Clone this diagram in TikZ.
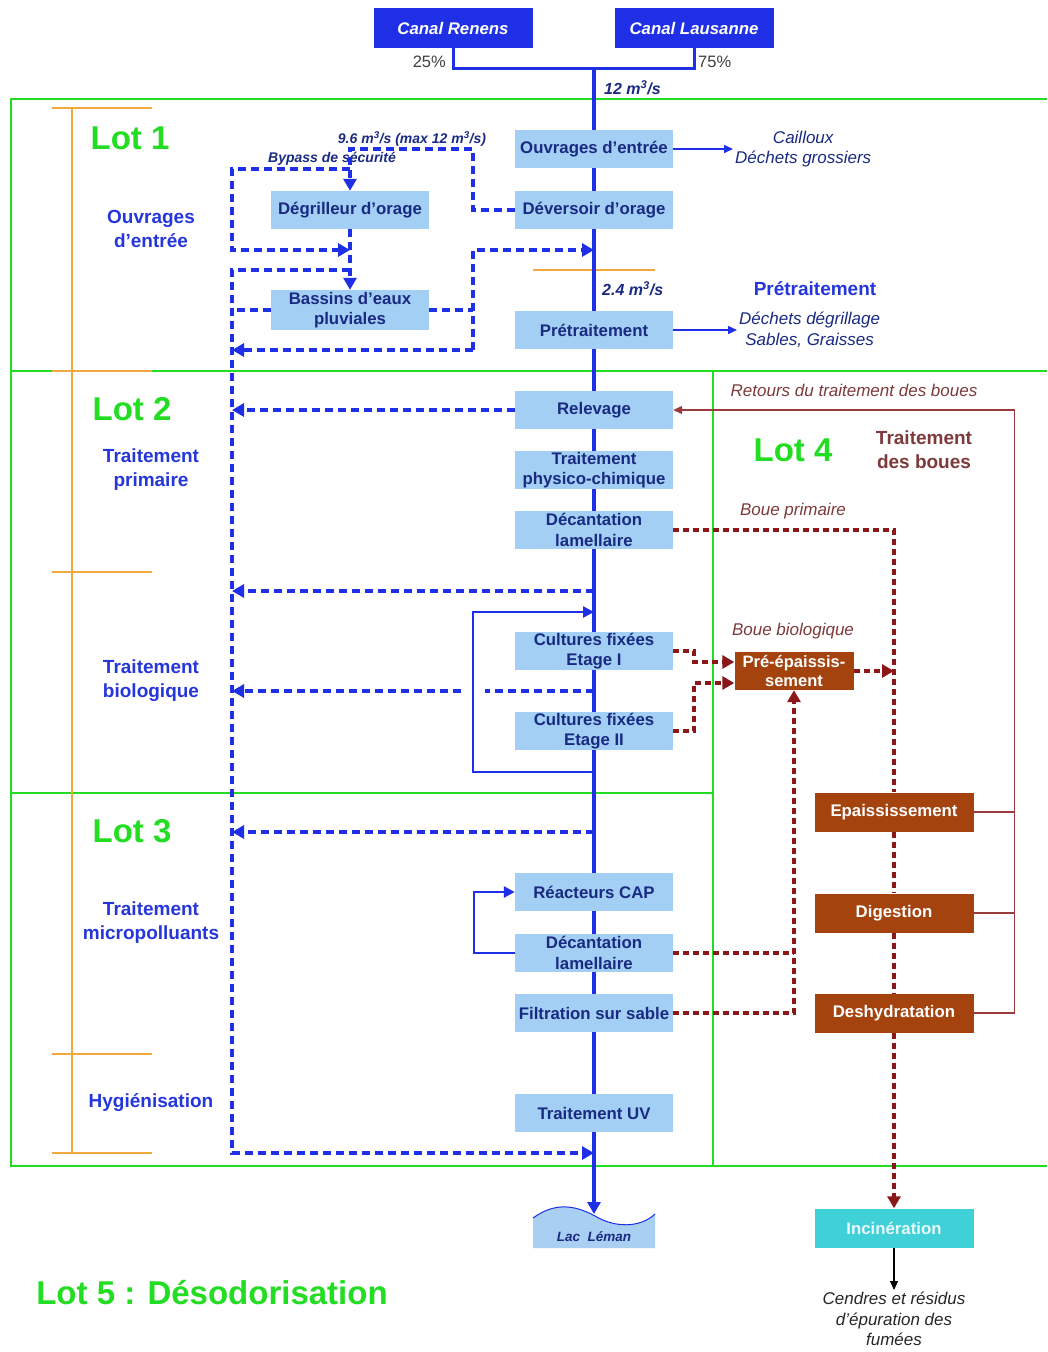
\documentclass[tikz,border=0pt]{standalone}
\usepackage{fontspec}
\setmainfont{Liberation Sans}
\usepackage{xcolor}
\definecolor{eaublue}{HTML}{1E2FE6}
\definecolor{eaubox}{HTML}{A2CFF3}
\definecolor{eautext}{HTML}{1A2A82}
\definecolor{eaulabel}{HTML}{2536DA}
\definecolor{lotgreen}{HTML}{22DD22}
\definecolor{lotorange}{HTML}{F2A93B}
\definecolor{bouebrown}{HTML}{A5430F}
\definecolor{bouedash}{HTML}{8A1818}
\definecolor{boueret}{HTML}{9A3A3A}
\definecolor{bouetext}{HTML}{7E3A3A}
\definecolor{incicyan}{HTML}{40D0D8}
\definecolor{lacblue}{HTML}{A9CFF2}
\usepackage{tikz}
\usetikzlibrary{arrows.meta,positioning,calc}

\begin{document}
\begin{tikzpicture}[x=1pt, y=-1pt,
  proc/.style={rectangle, fill=eaubox, text=eautext, font=\bfseries\fontsize{16.8}{20.5}\selectfont, minimum width=158pt, minimum height=38pt, align=center, inner sep=1pt},
  canal/.style={rectangle, fill=eaublue, text=white, font=\bfseries\itshape\fontsize{16.8}{19}\selectfont, minimum width=159pt, minimum height=40pt},
  boue/.style={rectangle, fill=bouebrown, text=white, font=\bfseries\fontsize{16.8}{20}\selectfont, minimum width=159pt, minimum height=39pt, align=center, inner sep=1pt},
  lot/.style={text=lotgreen, font=\bfseries\fontsize{33}{38}\selectfont},
  section/.style={text=eaulabel, font=\bfseries\fontsize{19}{24}\selectfont, align=center},
  note/.style={text=eautext, font=\itshape\fontsize{17}{20.5}\selectfont, align=center, inner sep=2pt},
  bouenote/.style={note, text=bouetext},
  flow/.style={text=eautext, font=\bfseries\itshape\fontsize{16}{18}\selectfont, inner sep=1pt},
  mainflow/.style={line width=4pt, eaublue},
  bypass/.style={line width=3.5pt, eaublue, dash pattern=on 8pt off 5pt},
  recirc/.style={line width=2.5pt, eaublue, -{Triangle[length=11pt,width=11pt]}},
  tip/.style={-{Triangle[length=12pt,width=13pt]}},
  bouepath/.style={line width=3.5pt, bouedash, dash pattern=on 6pt off 4pt},
  retour/.style={line width=1.3pt, boueret},
  outarrow/.style={-{Triangle[length=9pt,width=8pt]}, line width=1.5pt, eaublue},
  lotline/.style={line width=2pt, lotgreen},
  bracket/.style={line width=1.5pt, lotorange},
]
  \fill[white] (0,0) rectangle (1047,1352);
  \useasboundingbox (0,0) rectangle (1047,1352);

  % lots
  \draw[lotline] (1047,99) -- (11,99) -- (11,1166) -- (1047,1166);
  \draw[lotline] (11,371) -- (1047,371);
  \draw[lotline] (713,371) -- (713,1166);
  \draw[lotline] (11,793) -- (713,793);
  \draw[bracket] (72,108) -- (72,1153);
  \foreach \y in {108,371,572,1054,1153}
    \draw[bracket] (52,\y) -- (152,\y);
  \draw[bracket] (533,270) -- (655,270);

  \node[lot] (lot1) at (130,138) {Lot 1};
  \node[lot] (lot2) at (132,409) {Lot 2};
  \node[lot] (lot3) at (132,831) {Lot 3};
  \node[lot] (lot4) at (793,450) {Lot 4};
  \node[lot] (lot5) at (212,1293) {Lot 5 : Désodorisation};

  \node[section] (sec1) at (151,229) {Ouvrages\\d'entrée};
  \node[section] (sec2) at (151,470) {Traitement\\primaire};
  \node[section] (sec3) at (151,681) {Traitement\\biologique};
  \node[section] (sec4) at (151,923) {Traitement\\micropolluants};
  \node[section] (sec5) at (151,1103) {Hygiénisation};
  \node[section] (sec6) at (815,289) {Prétraitement};
  \node[section, text=bouetext] (sec7) at (924,450) {Traitement\\des boues};

  % inlets
  \node[canal] (renens) at (453,28) {Canal Renens};
  \node[canal] (lausanne) at (694,28) {Canal Lausanne};
  \node[font=\fontsize{16.5}{18}\selectfont, text=black!75, anchor=east, inner sep=1pt] (p25) at (447,62) {25\%};
  \node[font=\fontsize{16.5}{18}\selectfont, text=black!75, anchor=west, inner sep=1pt] (p75) at (697,62) {75\%};
  \node[flow, anchor=west] (q12) at (603,88) {12 m\textsuperscript{3}/s};
  \node[flow, font=\bfseries\itshape\fontsize{14}{16}\selectfont] (q96) at (412,139) {9.6 m\textsuperscript{3}/s (max 12 m\textsuperscript{3}/s)};
  \node[flow, font=\bfseries\itshape\fontsize{14}{16}\selectfont] (bypasslab) at (332,159) {Bypass de sécurité};
  \node[flow, anchor=west] (q24) at (601,289) {2.4 m\textsuperscript{3}/s};

  % water line
  \node[proc] (ouv)     at (594,149)  {Ouvrages d'entrée};
  \node[proc] (dev)     at (594,210)  {Déversoir d'orage};
  \node[proc] (degr)    at (350,210)  {Dégrilleur d'orage};
  \node[proc, minimum height=40pt] (bassins) at (350,310) {Bassins d'eaux\\pluviales};
  \node[proc] (pretr)   at (594,330)  {Prétraitement};
  \node[proc] (relev)   at (594,410)  {Relevage};
  \node[proc] (physico) at (594,470)  {Traitement\\physico-chimique};
  \node[proc] (dec1)    at (594,530)  {Décantation\\lamellaire};
  \node[proc] (cf1)     at (594,651)  {Cultures fixées\\Etage I};
  \node[proc] (cf2)     at (594,731)  {Cultures fixées\\Etage II};
  \node[proc] (cap)     at (594,892)  {Réacteurs CAP};
  \node[proc] (dec2)    at (594,953)  {Décantation\\lamellaire};
  \node[proc] (filt)    at (594,1013) {Filtration sur sable};
  \node[proc] (uv)      at (594,1113) {Traitement UV};

  \node[note, anchor=west] (cailloux) at (733,149) {Cailloux\\Déchets grossiers};
  \node[note, anchor=west] (dechets) at (737,330) {Déchets dégrillage\\Sables, Graisses};

  % lake
  \fill[lacblue] (533,1218) .. controls (555,1202) and (575,1205) .. (595,1216) .. controls (615,1228) and (640,1228) .. (655,1214) -- (655,1248) -- (533,1248) -- cycle;
  \draw[eaublue, line width=1pt] (533,1218) .. controls (555,1202) and (575,1205) .. (595,1216) .. controls (615,1228) and (640,1228) .. (655,1214);
  \node[flow, font=\bfseries\itshape\fontsize{13.5}{15}\selectfont] (lacname) at (594,1237) {Lac\ \ Léman};

  \coordinate (split) at (594,68);
  \coordinate (lac) at (594,1214);
  \coordinate (j1) at (594,250);
  \coordinate (j2) at (594,591);
  \coordinate (j3) at (594,691);
  \coordinate (j4) at (594,832);
  \coordinate (j5) at (594,772);
  \coordinate (j6) at (594,612);
  \coordinate (out) at (594,1153);
  \coordinate (b1) at (232,169);
  \coordinate (b2) at (232,1153);
  \coordinate (v1) at (473,149);
  \coordinate (v2) at (473,250);
  \coordinate (v3) at (473,350);
  \coordinate (k1) at (350,169);
  \coordinate (k2) at (350,250);
  \coordinate (k3) at (350,270);

  \draw[line width=3pt, eaublue] (renens.south) |- (split) -| (lausanne.south);
  \draw[mainflow] (split) -- (ouv) -- (dev) -- (pretr) -- (relev) -- (physico) -- (dec1) -- (cf1) -- (cf2) -- (cap) -- (dec2) -- (filt) -- (uv);
  \draw[mainflow, tip] (uv) -- (lac);
  \draw[outarrow] (ouv.east) -- (cailloux.west);
  \draw[outarrow] (pretr.east) -- (dechets.west);

  % storm bypass
  \draw[bypass, tip] (dev.west) -| (v1) -| (degr.north);
  \draw[bypass, tip] (k1) -- (b1) |- (k2);
  \draw[bypass, tip] (degr.south) -- (bassins.north);
  \draw[bypass, tip] (k3) -| (b2) -- (out);
  \draw[bypass] (bassins.west) -- (bassins.west -| b1);
  \draw[bypass] (bassins.east) -- (bassins.east -| v1);
  \draw[bypass, tip] (v3) -- (v2) -- (j1);
  \draw[bypass, tip] (v3) -- (v3 -| b1);
  \draw[bypass, tip] (relev.west) -- (relev.west -| b1);
  \foreach \j in {j2,j4}
    \draw[bypass, tip] (\j) -- (\j -| b1);
  \draw[bypass] (j3) -- ++(-109,0);
  \draw[bypass, tip] ($(j3)+(-133,0)$) -- (j3 -| b1);

  % recirculation
  \draw[recirc] (j5) -- ++(-121,0) |- (j6);
  \draw[recirc] (dec2.west) -- ++(-41,0) |- (cap.west);

  % sludge line
  \node[boue, minimum width=119pt, minimum height=38pt, inner sep=0.5pt, font=\bfseries\fontsize{16.5}{19}\selectfont] (preep) at (794,671) {Pré-épaissis-\\sement};
  \node[boue] (epais) at (894,812) {Epaississement};
  \node[boue] (dig) at (894,913) {Digestion};
  \node[boue] (desh) at (894,1013) {Deshydratation};
  \node[boue, fill=incicyan, text=white!88!incicyan] (incin) at (894,1228) {Incinération};
  \node[note, text=black!85, anchor=north] (cendres) at (894,1290) {Cendres et résidus\\d'épuration des\\fumées};
  \node[bouenote] (retlab) at (854,390) {Retours du traitement des boues};
  \node[bouenote] (bprim) at (793,511) {Boue primaire};
  \node[bouenote] (bbio) at (793,631) {Boue biologique};

  \draw[bouepath] (dec1.east) -| (epais.north);
  \draw[bouepath, tip] (preep.east) -- (preep.east -| epais.north);
  \draw[bouepath, tip] (cf1.east) -- ++(21,0) |- ([yshift=9pt]preep.west);
  \draw[bouepath, tip] (cf2.east) -- ++(21,0) |- ([yshift=-12pt]preep.west);
  \draw[bouepath] (dec2.east) -- (dec2.east -| preep.south);
  \draw[bouepath, tip] (filt.east) -| (preep.south);
  \draw[bouepath] (epais) -- (dig) -- (desh);
  \draw[bouepath, tip] (desh) -- (incin);
  \draw[-{Triangle[length=9pt,width=8pt]}, line width=1.2pt] (incin.south) -- (cendres.north);

  % returns
  \draw[retour, -{Triangle[length=9pt,width=8pt]}] (desh.east) -- ++(41,0) coordinate (r1) |- (relev.east);
  \draw[retour] (epais.east) -- (epais.east -| r1);
  \draw[retour] (dig.east) -- (dig.east -| r1);
\end{tikzpicture}
\end{document}
